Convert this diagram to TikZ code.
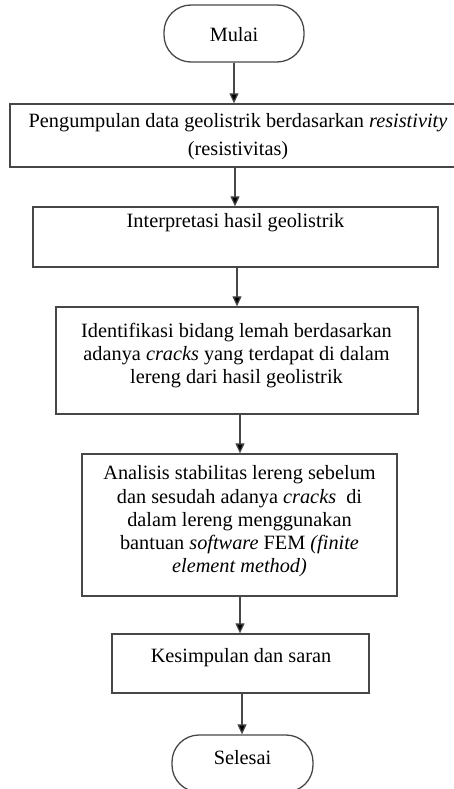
\documentclass[tikz,border=0pt]{standalone}
\usepackage{fontspec}
\setmainfont{Liberation Serif}
\usetikzlibrary{arrows.meta}
\begin{document}
\begin{tikzpicture}[x=1pt,y=-1pt,
  frame/.style={draw=black!72, line width=1.3pt, inner sep=0pt},
  term/.style={frame, rounded corners=27pt},
  lbl/.style={align=center, inner sep=0pt, font=\fontsize{20.3}{23.3}\selectfont},
  arr/.style={draw=black!72, line width=1.2pt, -{Triangle[length=10pt,width=9pt,fill=black]}}]
\useasboundingbox (0,0) rectangle (453,789);
% shapes
\node[term, minimum width=140, minimum height=57] (m) at (234,33.5) {};
\node[frame, minimum width=444.5, minimum height=63] (b1) at (232.25,135.5) {};
\node[frame, minimum width=405, minimum height=60] (b2) at (235.5,237) {};
\node[frame, minimum width=362, minimum height=107] (b3) at (237,360.5) {};
\node[frame, minimum width=315, minimum height=142] (b4) at (239.5,525) {};
\node[frame, minimum width=257, minimum height=59] (b5) at (240.5,663.5) {};
\node[term, minimum width=141, minimum height=57] (s) at (242.5,763.5) {};
% texts
\node[lbl] (tm) at (234,35) {Mulai};
\node[lbl, font=\fontsize{20.3}{28.3}\selectfont] (t1) at (238,136.5) {Pengumpulan data geolistrik berdasarkan \textit{resistivity}\\(resistivitas)};
\node[lbl] (t2) at (235.5,223) {Interpretasi hasil geolistrik};
\node[lbl] (t3) at (236.5,355.5) {Identifikasi bidang lemah berdasarkan\\adanya \textit{cracks} yang terdapat di dalam\\lereng dari hasil geolistrik};
\node[lbl] (t4) at (239.5,521.5) {Analisis stabilitas lereng sebelum\\dan sesudah adanya \textit{cracks}\ \ di\\dalam lereng menggunakan\\bantuan \textit{software} FEM \textit{(finite}\\\textit{element method)}};
\node[lbl] (t5) at (241,658) {Kesimpulan dan saran};
\node[lbl] (ts) at (242.5,758) {Selesai};
% connectors
\draw[arr] (m.south) -- (m.south |- b1.north);
\draw[arr] ([xshift=2.75pt]b1.south) -- ([xshift=2.75pt]b1.south |- b2.north);
\draw[arr] ([xshift=1.5pt]b2.south) -- ([xshift=1.5pt]b2.south |- b3.north);
\draw[arr] ([xshift=3pt]b3.south) -- ([xshift=3pt]b3.south |- b4.north);
\draw[arr] ([xshift=0.5pt]b4.south) -- ([xshift=0.5pt]b4.south |- b5.north);
\draw[arr] ([xshift=1.5pt]b5.south) -- ([xshift=1.5pt]b5.south |- s.north);
\end{tikzpicture}
\end{document}
